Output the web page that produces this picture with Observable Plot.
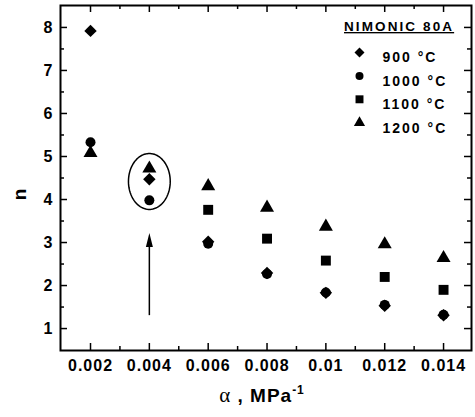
<!DOCTYPE html>
<html><head><meta charset="utf-8">
<script src="https://cdn.jsdelivr.net/npm/d3@7"></script>
<script src="https://cdn.jsdelivr.net/npm/@observablehq/plot@0.6"></script>
<style>
body{margin:0;background:#fff;}
#chart{width:475px;height:417px;}
</style></head><body><div id="chart"></div>
<script>
// ---- data ----
const alpha = [0.002, 0.004, 0.006, 0.008, 0.010, 0.012, 0.014];
const n900  = [7.92, 4.47, 3.02, 2.29, 1.83, 1.53, 1.31];
const n1000 = [5.33, 3.98, 2.97, 2.27, 1.84, 1.55, 1.32];
const n1100 = [null, null, 3.76, 3.09, 2.58, 2.20, 1.90]; // hidden behind other markers in the source
const n1200 = [5.08, 4.72, 4.31, 3.81, 3.37, 2.96, 2.64];
const seriesLabels = ["900 °C", "1000 °C", "1100 °C", "1200 °C"];
const seriesSymbols = ["diamond2", "circle", "square", "triangle"];
const legendTitle = "NIMONIC 80A";
const xMajor = [0.002, 0.004, 0.006, 0.008, 0.010, 0.012, 0.014];
const xMinor = [0.003, 0.005, 0.007, 0.009, 0.011, 0.013];
const yMajor = [1, 2, 3, 4, 5, 6, 7, 8];
const yMinor = [1.5, 2.5, 3.5, 4.5, 5.5, 6.5, 7.5];
const yLabel = "n";
const xLabel = ["α", " , MPa", "-1"];
const highlight = {x: 0.004, y: 4.42, rx: 0.00071, ry: 0.65};
const arrow = {x: 0.004, y1: 1.3, y2: 3.22};

// ---- build ----
const seriesValues = [n900, n1000, n1100, n1200];
const seriesR = [5.6, 5, 5.6, 5.2];
const rows = seriesValues.flatMap((vals, s) => vals.map((v, i) => ({a: alpha[i], n: v, s}))).filter(d => d.n != null);
const ell = d3.range(0, 361, 4).map(t => ({
  x: highlight.x + highlight.rx * Math.cos(t * Math.PI / 180),
  y: highlight.y + highlight.ry * Math.sin(t * Math.PI / 180)
}));
const head = {draw(ctx) { ctx.moveTo(0, 0); ctx.lineTo(3.5, 14); ctx.lineTo(-3.5, 14); ctx.closePath(); }};

const W = 411, H = 345;
const legendMarks = seriesLabels.flatMap((lab, i) => [
  Plot.dot([lab], {frameAnchor: "top-left", dx: 299, dy: 47 + i * 23.4, symbol: seriesSymbols[i], r: seriesR[i] * 0.8, fill: "black", stroke: "none"}),
  Plot.text([lab], {frameAnchor: "top-left", dx: 322, dy: 47 + i * 23.4, text: d => d, textAnchor: "start", fontSize: 14, fontWeight: "bold"})
]);

const plot = Plot.plot({
  width: 475, height: 417,
  marginLeft: 60, marginRight: 4, marginTop: 5, marginBottom: 67,
  style: {fontFamily: "'Liberation Sans', Arial, sans-serif", fontSize: "16px", background: "white", color: "black", letterSpacing: "1px"},
  x: {domain: [0.00098, 0.01495]},
  y: {domain: [0.49, 8.51]},
  marks: [
    Plot.ruleX(xMajor, {x: d => d, insetTop: H - 7, strokeWidth: 1.5}),
    Plot.ruleX(xMajor, {x: d => d, insetBottom: H - 7, strokeWidth: 1.5}),
    Plot.ruleX(xMinor, {x: d => d, insetTop: H - 4, strokeWidth: 1.5}),
    Plot.ruleX(xMinor, {x: d => d, insetBottom: H - 4, strokeWidth: 1.5}),
    Plot.ruleY(yMajor, {y: d => d, insetRight: W - 7, strokeWidth: 1.5}),
    Plot.ruleY(yMajor, {y: d => d, insetLeft: W - 7, strokeWidth: 1.5}),
    Plot.ruleY(yMinor, {y: d => d, insetRight: W - 4, strokeWidth: 1.5}),
    Plot.ruleY(yMinor, {y: d => d, insetLeft: W - 4, strokeWidth: 1.5}),
    Plot.axisX(xMajor, {tickSize: 0, tickPadding: 9, fontSize: 16, fontWeight: "bold", tickFormat: d => String(+d.toFixed(3)), label: null}),
    Plot.axisY(yMajor, {tickSize: 0, tickPadding: 7, fontSize: 16, fontWeight: "bold", label: null}),
    ...seriesSymbols.map((sym, s) => Plot.dot(rows.filter(d => d.s === s), {x: "a", y: "n", symbol: sym, r: seriesR[s], fill: "black", stroke: "none"})),
    Plot.line(ell, {x: "x", y: "y", stroke: "black", strokeWidth: 1.5}),
    Plot.ruleX([arrow], {x: "x", y1: "y1", y2: d => d.y2 - 0.25, strokeWidth: 1.5}),
    Plot.dot([arrow], {x: "x", y: "y2", symbol: head, fill: "black", stroke: "none"}),
    ...legendMarks,
    Plot.frame({stroke: "black", strokeWidth: 2})
  ]
});

const svg = d3.select(plot);
svg.selectAll("text").filter(function() { return seriesLabels.includes(this.textContent); })
  .attr("letter-spacing", "2px");

// legend title (underlined)
svg.append("text").attr("x", 344).attr("y", 31).attr("text-anchor", "start")
  .attr("font-size", 13.5).attr("font-weight", "bold").attr("letter-spacing", "2.1px")
  .style("text-decoration", "underline").text(legendTitle);

// axis titles
svg.append("text").attr("transform", "translate(26,194) rotate(-90)")
  .attr("text-anchor", "middle").attr("font-size", 19).attr("font-weight", "bold").text(yLabel);
const xl = svg.append("text").attr("x", 262).attr("y", 402).attr("text-anchor", "middle")
  .attr("font-size", 19).attr("font-weight", "bold");
xl.append("tspan").attr("font-family", "'Liberation Serif', serif").attr("font-weight", "normal").attr("font-size", 21).text(xLabel[0]);
xl.append("tspan").text(xLabel[1]);
xl.append("tspan").attr("font-size", 12).attr("dy", -8).text(xLabel[2]);

document.getElementById("chart").appendChild(plot);
</script></body></html>
